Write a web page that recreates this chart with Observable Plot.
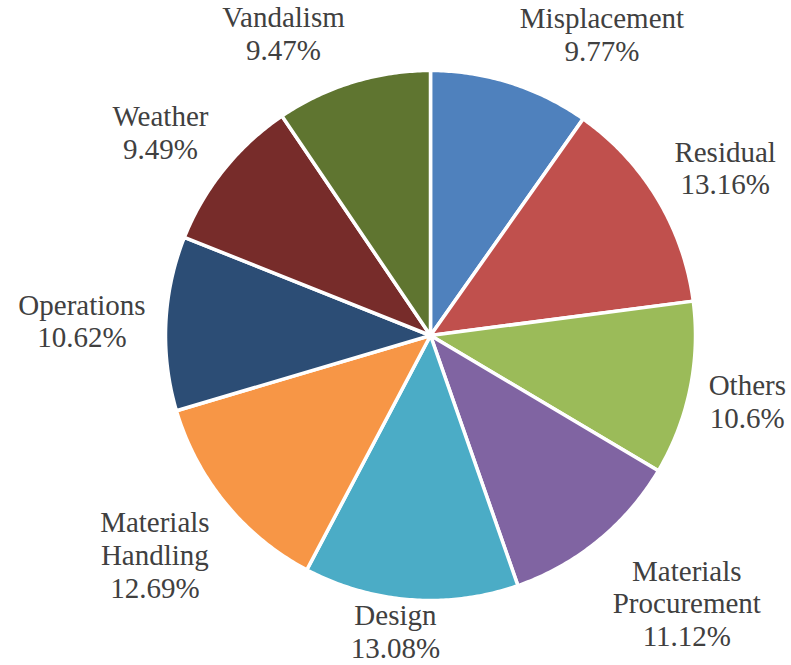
<!DOCTYPE html>
<html>
<head>
<meta charset="utf-8">
<script src="https://cdn.jsdelivr.net/npm/d3@7"></script>
<script src="https://cdn.jsdelivr.net/npm/@observablehq/plot@0.6"></script>
<style>
  html, body { margin: 0; padding: 0; background: #fff; }
  #chart svg { display: block; }
</style>
</head>
<body>
<div id="chart"></div>
<script>
// ---- data ----
const categories = ["Misplacement", "Residual", "Others", "Materials\nProcurement", "Design", "Materials\nHandling", "Operations", "Weather", "Vandalism"];
const values = [9.77, 13.16, 10.6, 11.12, 13.08, 12.69, 10.62, 9.49, 9.47];
const valueLabels = ["9.77%", "13.16%", "10.6%", "11.12%", "13.08%", "12.69%", "10.62%", "9.49%", "9.47%"];
const colors = ["#4F81BD", "#C0504D", "#9BBB59", "#8064A2", "#4BACC6", "#F79646", "#2C4D75", "#772C2A", "#5F7530"];

// ---- layout ----
const W = 791, H = 665;
const cx = 430, cy = 335, R = 265;   // pixels
const fontSize = 29, lineHeight = 1.13;
const fontFamily = '"Liberation Serif", "Times New Roman", serif';
const font = `${fontSize}px ${fontFamily}`;

const pie = d3.pie().sort(null).value(d => d.value)(
  categories.map((c, i) => ({ name: c, value: values[i], label: valueLabels[i] }))
);

// slice polygons in unit coordinates (angle 0 at top, clockwise)
const pts = [];
pie.forEach(s => {
  const n = Math.max(4, Math.ceil((s.endAngle - s.startAngle) / 0.01));
  pts.push({ name: s.data.name, x: 0, y: 0 });
  for (let k = 0; k <= n; k++) {
    const a = s.startAngle + (s.endAngle - s.startAngle) * k / n;
    pts.push({ name: s.data.name, x: Math.sin(a), y: Math.cos(a) });
  }
  pts.push({ name: s.data.name, x: 0, y: 0 });
});

// label placement (emulating outside-end labels kept inside the chart area)
const ctx = document.createElement("canvas").getContext("2d");
ctx.font = font;
const gap = 17 / R;
const clamp = v => Math.max(-1, Math.min(1, v));
const labels = pie.map(s => {
  const text = s.data.name + "\n" + s.data.label;
  const lines = text.split("\n");
  const w = d3.max(lines, l => ctx.measureText(l).width) / R;
  const h = lines.length * fontSize * lineHeight / R;
  const a = (s.startAngle + s.endAngle) / 2;
  const sin = Math.sin(a), cos = Math.cos(a);
  const px = (1 + gap) * sin, py = (1 + gap) * cos;
  const sx = clamp(sin * 4) * 1.05;
  const sy = clamp(cos * 1.3);
  let y = py + sy * h / 2;
  const yMin = -(H - cy) / R + h / 2 + 2 / R;   // keep block inside bottom edge
  y = Math.max(y, yMin);
  return { text, x: px + sx * w / 2, y };
});

const xDomain = [-cx / R, (W - cx) / R];
const yDomain = [-(H - cy) / R, cy / R];

const plot = Plot.plot({
  width: W, height: H,
  margin: 0,
  x: { domain: xDomain, range: [0, W], axis: null },
  y: { domain: yDomain, range: [H, 0], axis: null },
  color: { domain: categories, range: colors },
  style: { background: "#fff", fontFamily },
  marks: [
    Plot.line(pts, { x: "x", y: "y", z: "name", fill: "name", stroke: "#fff", strokeWidth: 3.5, strokeLinejoin: "round", curve: "linear" }),
    Plot.text(labels, {
      x: "x", y: "y", text: "text",
      fontSize, lineHeight, lineAnchor: "middle", textAnchor: "middle",
      fontFamily,
      fill: "#404040"
    })
  ]
});
document.getElementById("chart").appendChild(plot);
</script>
</body>
</html>
